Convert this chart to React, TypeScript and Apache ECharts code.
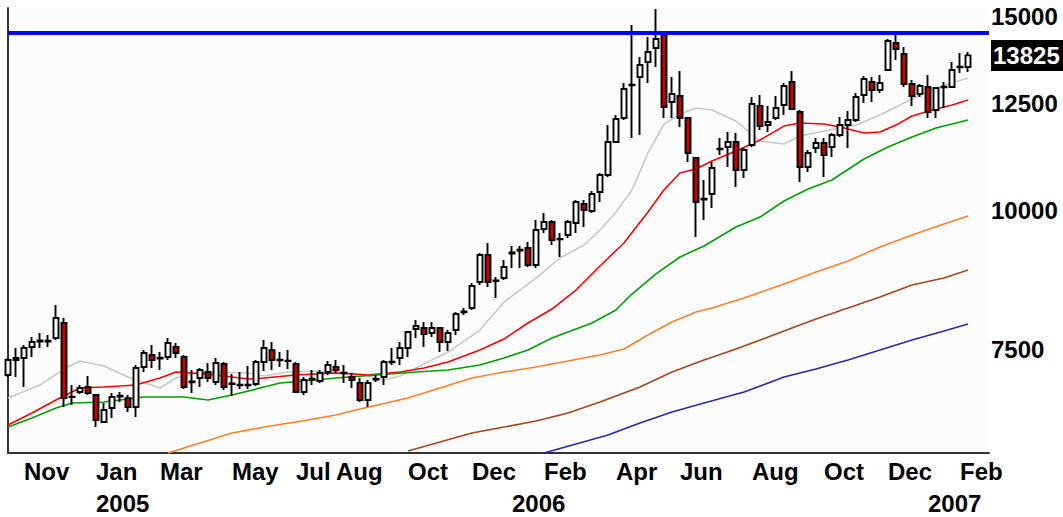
import React, { useEffect, useRef } from "react";
import * as echarts from "echarts";

// Weekly candles, weeks ending on Friday, first week 2004-10-22. Row: [open, close, low, high]
const startWeek = "2004-10-22";
const candles: number[][] = [
  [7105, 7330, 7075, 7361], [7330, 7361, 7075, 7516], [7361, 7516, 6930, 7563], [7531, 7610, 7376, 7690],
  [7618, 7634, 7516, 7755], [7620, 7630, 7531, 7723], [7674, 8001, 7642, 8220], [7918, 6772, 6647, 8001],
  [6785, 6792, 6675, 6958], [6858, 6915, 6829, 6958], [6930, 6843, 6815, 7090], [6815, 6469, 6375, 6829],
  [6442, 6605, 6429, 6702], [6633, 6787, 6496, 6843], [6795, 6805, 6716, 6858], [6772, 6647, 6578, 6815],
  [6647, 7209, 6510, 7255], [7224, 7438, 7149, 7484], [7407, 7330, 7209, 7563], [7368, 7355, 7179, 7453],
  [7376, 7595, 7330, 7674], [7531, 7438, 7361, 7595], [7376, 6930, 6900, 7407], [7000, 7010, 6843, 7179],
  [7061, 7179, 6930, 7209], [7149, 7061, 7002, 7285], [7002, 7285, 6958, 7361], [7270, 6930, 6886, 7300],
  [6973, 6980, 6801, 7120], [6955, 6962, 6900, 7149], [6955, 6965, 6900, 7239], [6973, 7300, 6944, 7330],
  [7300, 7516, 7164, 7642], [7484, 7330, 7179, 7610], [7325, 7335, 7224, 7453], [7320, 7315, 7194, 7484],
  [7270, 6858, 6843, 7300], [6858, 7031, 6815, 7075], [7040, 7050, 6958, 7179], [7017, 7135, 6988, 7179],
  [7149, 7255, 7105, 7315], [7224, 7179, 7135, 7330], [7130, 7140, 6988, 7255], [7075, 7031, 6915, 7135],
  [6988, 6744, 6716, 7061], [6744, 6988, 6647, 7031], [7046, 7040, 7002, 7105], [7075, 7300, 6958, 7330],
  [7295, 7305, 7255, 7516], [7361, 7516, 7255, 7610], [7516, 7771, 7376, 7775], [7819, 7869, 7674, 7967],
  [7836, 7739, 7531, 7934], [7755, 7836, 7690, 7934], [7836, 7610, 7453, 7852], [7610, 7755, 7469, 7803],
  [7803, 8068, 7723, 8101], [8095, 8110, 8051, 8170], [8169, 8552, 8135, 8606], [8624, 9123, 8570, 9161],
  [9123, 8624, 8535, 9354], [8650, 8640, 8340, 8713], [8695, 8897, 8659, 9028], [9152, 9171, 8879, 9295],
  [9210, 9225, 8879, 9295], [9257, 8935, 8897, 9373], [8935, 9610, 8879, 9812], [9630, 9772, 9552, 9957],
  [9772, 9412, 9315, 9812], [9425, 9435, 9085, 9552], [9511, 9772, 9451, 9812], [9751, 10188, 9552, 10230],
  [10146, 10019, 9670, 10230], [9998, 10359, 9957, 10423], [10402, 10777, 10188, 10822], [10777, 11544, 10732, 11958],
  [11544, 12110, 11520, 12212], [12135, 12892, 12085, 13054], [13010, 12990, 11640, 14732], [13218, 13553, 11714, 13781],
  [13638, 13925, 13054, 14365], [14042, 14306, 13496, 15229], [14428, 12417, 12135, 14488], [12547, 12759, 12135, 13218],
  [12705, 12135, 11909, 13384], [12135, 11283, 11073, 12140], [11166, 10188, 9471, 11189], [10240, 10260, 9812, 10665],
  [10359, 10935, 10060, 11073], [11370, 11385, 11236, 11640], [11423, 11544, 10957, 11787], [11544, 10890, 10510, 11763],
  [10890, 11353, 10710, 11401], [11472, 12495, 11423, 12679], [12443, 11933, 11836, 12732], [11958, 12035, 11787, 12443],
  [12135, 12391, 12085, 12705], [12469, 12973, 12212, 13054], [13081, 12365, 12340, 13384], [12289, 10957, 10621, 12340],
  [10957, 11283, 10845, 11353], [11401, 11520, 11283, 11640], [11520, 11236, 10732, 11640], [11423, 11714, 11189, 11763],
  [11714, 11958, 11664, 12160], [11958, 12085, 11401, 12315], [12085, 12679, 12035, 12785], [12732, 13162, 12521, 13245],
  [13081, 12865, 12547, 13218], [12865, 13054, 12785, 13273], [13412, 14248, 13384, 14306], [14189, 14012, 13694, 14428],
  [13867, 13027, 12945, 14072], [13027, 12705, 12443, 13135], [12759, 12973, 12679, 13027], [12945, 12289, 12135, 13273],
  [12340, 12918, 12135, 12945], [12935, 12950, 12391, 13081], [12945, 13412, 12918, 13638], [13490, 13505, 13329, 13896],
  [13496, 13825, 13357, 13925],
];

const weeks: string[] = candles.map((_, i) =>
  new Date(Date.parse(startWeek + "T00:00:00Z") + i * 7 * 86400000).toISOString().slice(0, 10)
);

const monthNames = ["Jan", "Feb", "Mar", "Apr", "May", "Jun", "Jul", "Aug", "Sep", "Oct", "Nov", "Dec"];
const labelledMonths = [
  "2004-11", "2005-01", "2005-03", "2005-05", "2005-07", "2005-08", "2005-10", "2005-12",
  "2006-02", "2006-04", "2006-06", "2006-08", "2006-10", "2006-12", "2007-02",
];

const priceTicks = [7500, 10000, 12500, 15000];
const lastClose = 13825;
const resistance = 14490;
const yMin = 6040;
const yMax = 15260;

// Moving averages read at sample weeks: [week index, value]
const maGray: number[][] = [
  [0, 6772], [4, 6958], [7, 7194], [9, 7315], [12, 7239], [15, 7075], [19, 6915], [21, 7061], [24, 7149],
  [30, 7135], [32, 7090], [35, 7149], [40, 7164], [44, 7120], [47, 7031], [49, 7090], [52, 7270], [55, 7453],
  [57, 7626], [59, 7803], [62, 8272], [66, 8695], [69, 9066], [72, 9315], [74, 9610], [76, 9977], [78, 10445],
  [80, 11283], [82, 11983], [84, 12238], [86, 12391], [88, 12340], [91, 12060], [94, 11568], [97, 11496],
  [99, 11689], [102, 11812], [106, 11958], [109, 12212], [112, 12521], [115, 12838], [118, 13054], [120, 13190],
];
const maRed: number[][] = [
  [0, 6402], [3, 6564], [6, 6744], [9, 6915], [12, 6930], [16, 6958], [19, 7061], [21, 7149], [25, 7120],
  [30, 7046], [32, 7061], [36, 7105], [41, 7135], [45, 7105], [49, 7149], [52, 7209], [55, 7300], [59, 7484],
  [62, 7658], [65, 7918], [68, 8152], [71, 8481], [74, 8916], [77, 9354], [80, 9977], [82, 10445], [84, 10822],
  [86, 10912], [88, 11096], [91, 11330], [94, 11592], [97, 11933], [99, 12010], [102, 11983], [104, 11909],
  [107, 11763], [109, 11787], [111, 11958], [113, 12186], [116, 12365], [118, 12469], [120, 12599],
];
const maGreen: number[][] = [
  [0, 6375], [3, 6496], [6, 6633], [8, 6702], [12, 6716], [17, 6787], [22, 6787], [25, 6744], [28, 6815],
  [31, 6900], [34, 6988], [37, 7017], [41, 7061], [46, 7105], [51, 7149], [55, 7179], [59, 7255], [62, 7361],
  [65, 7484], [68, 7674], [73, 7918], [76, 8135], [78, 8411], [81, 8770], [84, 9085], [87, 9295], [91, 9670],
  [94, 9873], [97, 10209], [100, 10467], [103, 10665], [107, 11142], [110, 11423], [113, 11664], [116, 11885],
  [120, 12085],
];
const maOrange: number[][] = [
  [20, 6040], [24, 6167], [28, 6296], [32, 6375], [36, 6442], [41, 6537], [44, 6619], [50, 6772], [54, 6915],
  [58, 7061], [62, 7149], [66, 7224], [70, 7315], [74, 7407], [77, 7500], [80, 7723], [83, 7934], [86, 8101],
  [88, 8169], [92, 8340], [97, 8588], [101, 8806], [105, 9009], [109, 9276], [113, 9511], [117, 9732], [120, 9895],
];
const maBrown: number[][] = [
  [50, 6064], [54, 6179], [58, 6296], [62, 6375], [66, 6456], [70, 6564], [74, 6716], [79, 6930], [83, 7149],
  [87, 7330], [91, 7500], [97, 7787], [101, 7984], [105, 8169], [109, 8357], [113, 8570], [117, 8695], [120, 8842],
];
const maBlue: number[][] = [
  [67, 6040], [71, 6154], [75, 6270], [79, 6429], [83, 6578], [87, 6702], [92, 6858], [97, 7075], [101, 7194],
  [105, 7330], [109, 7484], [113, 7642], [117, 7787], [120, 7901],
];

const FONT = "'Liberation Sans', Arial, sans-serif";

function buildLabels() {
  const months: Record<number, string> = {};
  const years: Record<number, string> = {};
  weeks.forEach((w, i) => {
    const ym = w.slice(0, 7);
    if (i > 0 && weeks[i - 1].slice(0, 7) === ym) return;
    const m = Number(w.slice(5, 7));
    if (labelledMonths.includes(ym)) months[i] = monthNames[m - 1];
    if (m === 1) years[i] = w.slice(0, 4);
  });
  return { months, years };
}

export default function App() {
  const ref = useRef<HTMLDivElement>(null);

  useEffect(() => {
    if (!ref.current) return;
    const chart = echarts.init(ref.current, undefined, { renderer: "svg" });
    const { months, years } = buildLabels();

    const line = (data: number[][], color: string, width = 1.6) => ({
      type: "line",
      data,
      symbol: "none",
      showSymbol: false,
      silent: true,
      lineStyle: { color, width },
      itemStyle: { color },
      z: 2,
    });

    const labelFont = {
      fontSize: 24,
      fontWeight: "bold",
      fontFamily: FONT,
      color: "#000",
    };

    chart.setOption({
      animation: false,
      backgroundColor: "#ffffff",
      grid: {
        left: 8,
        right: 74,
        top: 8,
        bottom: 64,
        show: true,
        backgroundColor: "#fcfcfc",
        borderWidth: 0,
        containLabel: false,
        outerBoundsMode: "none",
      },
      xAxis: [
        {
          type: "value",
          min: 0,
          max: 122.625,
          axisLine: { show: true, onZero: false, lineStyle: { color: "#333", width: 2 } },
          axisTick: { show: false },
          splitLine: { show: false },
          axisLabel: {
            ...labelFont,
            lineHeight: 20,
            customValues: Object.keys(months).map(Number),
            formatter: (v: number) => months[Math.round(v)] ?? "",
            align: "left",
            verticalAlign: "top",
            margin: 8,
            hideOverlap: false,
            showMinLabel: true,
            showMaxLabel: true,
          },
        },
        {
          type: "value",
          min: 0,
          max: 122.625,
          position: "bottom",
          offset: 32,
          axisLine: { show: false, onZero: false },
          axisTick: { show: false },
          splitLine: { show: false },
          axisLabel: {
            ...labelFont,
            lineHeight: 20,
            customValues: Object.keys(years).map(Number),
            formatter: (v: number) => years[Math.round(v)] ?? "",
            align: "left",
            verticalAlign: "top",
            margin: 8,
            hideOverlap: false,
            showMinLabel: true,
            showMaxLabel: true,
          },
        },
      ],
      yAxis: [
        {
          type: "log",
          logBase: 10,
          min: yMin,
          max: yMax,
          position: "right",
          axisLine: { show: true, lineStyle: { color: "#333", width: 2 } },
          axisTick: { show: false },
          axisLabel: { show: false },
          splitLine: { show: false },
        },
        {
          type: "value",
          min: Math.log(yMin),
          max: Math.log(yMax),
          position: "right",
          axisLine: { show: false },
          axisTick: { show: false },
          splitLine: { show: false },
          axisLabel: {
            ...labelFont,
            customValues: [...priceTicks, lastClose].map((v) => Math.log(v)),
            formatter: (v: number) => {
              const n = Math.round(Math.exp(v));
              return n === lastClose ? `{hl|${n}}` : `${n}`;
            },
            margin: 2,
            hideOverlap: false,
            rich: {
              hl: {
                backgroundColor: "#000",
                color: "#fff",
                fontSize: 24,
                fontWeight: "bold",
                fontFamily: FONT,
                lineHeight: 22,
                padding: [4, 4, 3, 2],
              },
            },
          },
        },
      ],
      series: [
        line(maGray, "#c8c8c8"),
        line(maRed, "#ff0000"),
        line(maGreen, "#00a000"),
        line(maOrange, "#ff7f2a"),
        line(maBrown, "#a8441c"),
        line(maBlue, "#2828b0"),
        {
          type: "candlestick",
          xAxisIndex: 0,
          yAxisIndex: 0,
          data: candles.map((c, i) => [i, c[0], c[1], c[2], c[3]]),
          barWidth: 5,
          z: 3,
          itemStyle: {
            color: "#ffffff",
            color0: "#cc0000",
            borderColor: "#000000",
            borderColor0: "#000000",
            borderColorDoji: "#000000",
            borderWidth: 1.9,
          },
          markLine: {
            silent: true,
            symbol: ["none", "none"],
            label: { show: false },
            lineStyle: { color: "#0000ff", width: 4, type: "solid" },
            data: [{ yAxis: resistance }],
          },
        },
      ],
    });

    return () => chart.dispose();
  }, []);

  return (
    <div
      ref={ref}
      style={{ position: "absolute", left: 0, top: 0, width: 1063, height: 517, background: "#fff" }}
    />
  );
}
